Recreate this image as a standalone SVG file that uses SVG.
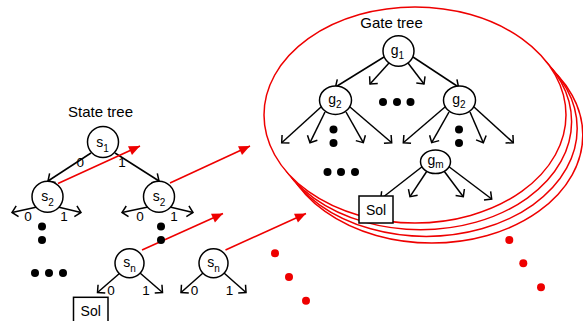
<svg xmlns="http://www.w3.org/2000/svg" width="583" height="321" viewBox="0 0 583 321">
<style>
text{font-family:"Liberation Sans",Arial,sans-serif;fill:#000}
.title{font-size:15px;text-anchor:middle}
.lbl{font-size:14px;text-anchor:middle}
.edge{font-size:13.5px;text-anchor:middle}
.sol{font-size:14px;text-anchor:middle}
.node{fill:#fff;stroke:#000;stroke-width:1.5}
.frame{fill:#fff;stroke:#e00;stroke-width:1.5}
.bl{stroke:#000;stroke-width:1.5;fill:none;marker-end:url(#ah)}
.rd{stroke:#e00;stroke-width:1.6;fill:none;marker-end:url(#rh)}
.dot{fill:#000}
.rdot{fill:#e00}
</style>
<defs>
<marker id="ah" markerUnits="userSpaceOnUse" markerWidth="14" markerHeight="14" refX="0" refY="0" viewBox="-8 -7 9 14" orient="auto" overflow="visible">
<path d="M-5.5,-5.5 L0,0 L-5.5,5.5" fill="none" stroke="#000" stroke-width="1.5"/>
</marker>
<marker id="rh" markerUnits="userSpaceOnUse" markerWidth="14" markerHeight="12" refX="0" refY="0" viewBox="-12 -6 13 12" orient="auto" overflow="visible">
<path d="M-11,-4.8 L0,0 L-11,4.8 Z" fill="#e00"/>
</marker>
</defs>

<g id="gate-frames">
<ellipse class="frame" cx="431.8" cy="135.1" rx="151" ry="108"/>
<ellipse class="frame" cx="426.2" cy="128.4" rx="151" ry="108"/>
<ellipse class="frame" cx="420.6" cy="121.7" rx="151" ry="108"/>
<ellipse class="frame" cx="415" cy="115" rx="151" ry="108"/>
</g>

<g id="connectors">
<line class="bl" x1="91" y1="153" x2="48" y2="181"/>
<line class="bl" x1="115" y1="153" x2="159" y2="181"/>
<line class="bl" x1="37" y1="207" x2="12" y2="212.5"/>
<line class="bl" x1="58" y1="207" x2="81" y2="212.5"/>
<line class="bl" x1="148" y1="207" x2="122" y2="212.5"/>
<line class="bl" x1="170" y1="207" x2="193" y2="212.5"/>
<line class="bl" x1="120" y1="273" x2="97.5" y2="292.5"/>
<line class="bl" x1="140" y1="273" x2="162.5" y2="292.5"/>
<line class="bl" x1="203" y1="273" x2="181" y2="292.5"/>
<line class="bl" x1="224" y1="273" x2="246" y2="292.5"/>
<line class="bl" x1="384" y1="57" x2="335.5" y2="87"/>
<line class="bl" x1="389" y1="63" x2="370" y2="84"/>
<line class="bl" x1="408" y1="63" x2="424" y2="84"/>
<line class="bl" x1="413" y1="57" x2="458.5" y2="87"/>
<line class="bl" x1="321" y1="107" x2="281.7" y2="142.7"/>
<line class="bl" x1="325" y1="112" x2="310" y2="142.7"/>
<line class="bl" x1="346" y1="112" x2="363.3" y2="142.7"/>
<line class="bl" x1="350" y1="107" x2="391.7" y2="142.7"/>
<line class="bl" x1="445" y1="107" x2="403.3" y2="142.7"/>
<line class="bl" x1="449" y1="112" x2="431.7" y2="142.7"/>
<line class="bl" x1="470" y1="112" x2="483.3" y2="142.7"/>
<line class="bl" x1="474" y1="107" x2="513.3" y2="142.7"/>
<line class="bl" x1="423" y1="166" x2="380.7" y2="199"/>
<line class="bl" x1="427" y1="171" x2="410" y2="196.7"/>
<line class="bl" x1="444" y1="171" x2="463.3" y2="196.7"/>
<line class="bl" x1="448" y1="166" x2="491.7" y2="199"/>
<line class="rd" x1="58" y1="183.5" x2="140" y2="146"/>
<line class="rd" x1="170" y1="183" x2="250" y2="146"/>
<line class="rd" x1="142" y1="250" x2="223" y2="213.5"/>
<line class="rd" x1="225.5" y1="250" x2="306" y2="213.5"/>
</g>

<g id="state-tree-title"><text class="title" x="100.5" y="117">State tree</text></g>
<g id="gate-tree-title"><text class="title" x="391.5" y="28">Gate tree</text></g>

<g id="s1"><circle class="node" cx="103" cy="142" r="15.5"/><text class="lbl" x="102.5" y="146.5">s<tspan font-size="10" dy="5">1</tspan></text></g>
<g id="s2-left"><circle class="node" cx="47.5" cy="196.7" r="15.5"/><text class="lbl" x="47.5" y="201">s<tspan font-size="10" dy="5">2</tspan></text></g>
<g id="s2-right"><circle class="node" cx="159" cy="196.7" r="15.5"/><text class="lbl" x="159" y="201">s<tspan font-size="10" dy="5">2</tspan></text></g>
<g id="sn-1"><circle class="node" cx="129.5" cy="263.3" r="14.5"/><text class="lbl" x="129.5" y="267">s<tspan font-size="10" dy="5">n</tspan></text></g>
<g id="sn-2"><circle class="node" cx="213.5" cy="263.3" r="14.5"/><text class="lbl" x="213.5" y="267">s<tspan font-size="10" dy="5">n</tspan></text></g>

<g id="edge-labels">
<text class="edge" x="80.3" y="166.5">0</text>
<text class="edge" x="122" y="166.5">1</text>
<text class="edge" x="28" y="221">0</text>
<text class="edge" x="64" y="221">1</text>
<text class="edge" x="140" y="221">0</text>
<text class="edge" x="174" y="221">1</text>
<text class="edge" x="111" y="294.5">0</text>
<text class="edge" x="146" y="294.5">1</text>
<text class="edge" x="194.5" y="294.5">0</text>
<text class="edge" x="229.5" y="294.5">1</text>
</g>

<g id="state-dots">
<circle class="dot" cx="42" cy="226.5" r="4"/>
<circle class="dot" cx="42" cy="240" r="4"/>
<circle class="dot" cx="161" cy="226.5" r="4"/>
<circle class="dot" cx="161" cy="240" r="4"/>
<circle class="dot" cx="35" cy="273" r="4"/>
<circle class="dot" cx="49" cy="273" r="4"/>
<circle class="dot" cx="63" cy="273" r="4"/>
</g>

<g id="sol-state"><rect x="73.5" y="297.3" width="34.5" height="30" fill="#fff" stroke="#000" stroke-width="1.5"/><text class="sol" x="90.7" y="316">Sol</text></g>

<g id="g1"><ellipse class="node" cx="398.5" cy="51" rx="15.5" ry="15.2"/><text class="lbl" x="397.5" y="55" font-size="15">g<tspan font-size="10" dy="4">1</tspan></text></g>
<g id="g2-left"><ellipse class="node" cx="335.5" cy="100.2" rx="16" ry="14.3"/><text class="lbl" x="335" y="104" font-size="15">g<tspan font-size="10" dy="4">2</tspan></text></g>
<g id="g2-right"><ellipse class="node" cx="459.5" cy="100.2" rx="16" ry="14.3"/><text class="lbl" x="459" y="104" font-size="15">g<tspan font-size="10" dy="4">2</tspan></text></g>
<g id="gm"><ellipse class="node" cx="435.5" cy="161.7" rx="15" ry="11.8"/><text class="lbl" x="435.5" y="165" font-size="15">g<tspan font-size="10" dy="3">m</tspan></text></g>

<g id="gate-dots">
<circle class="dot" cx="383" cy="102" r="4"/>
<circle class="dot" cx="397" cy="102" r="4"/>
<circle class="dot" cx="410.5" cy="102" r="4"/>
<circle class="dot" cx="333.5" cy="129.5" r="4"/>
<circle class="dot" cx="333.5" cy="143" r="4"/>
<circle class="dot" cx="459" cy="129.5" r="4"/>
<circle class="dot" cx="459" cy="143" r="4"/>
<circle class="dot" cx="327.5" cy="172" r="4"/>
<circle class="dot" cx="341" cy="172" r="4"/>
<circle class="dot" cx="355" cy="172" r="4"/>
</g>

<g id="sol-gate"><rect x="359" y="196" width="34" height="27" fill="#fff" stroke="#000" stroke-width="1.5"/><text class="sol" x="376" y="215">Sol</text></g>

<g id="red-dots">
<circle class="rdot" cx="275" cy="253.3" r="4"/>
<circle class="rdot" cx="289" cy="277" r="4"/>
<circle class="rdot" cx="306" cy="300.7" r="4"/>
<circle class="rdot" cx="509.3" cy="240" r="4"/>
<circle class="rdot" cx="523.3" cy="263.3" r="4"/>
<circle class="rdot" cx="541" cy="287.3" r="4"/>
</g>
</svg>
